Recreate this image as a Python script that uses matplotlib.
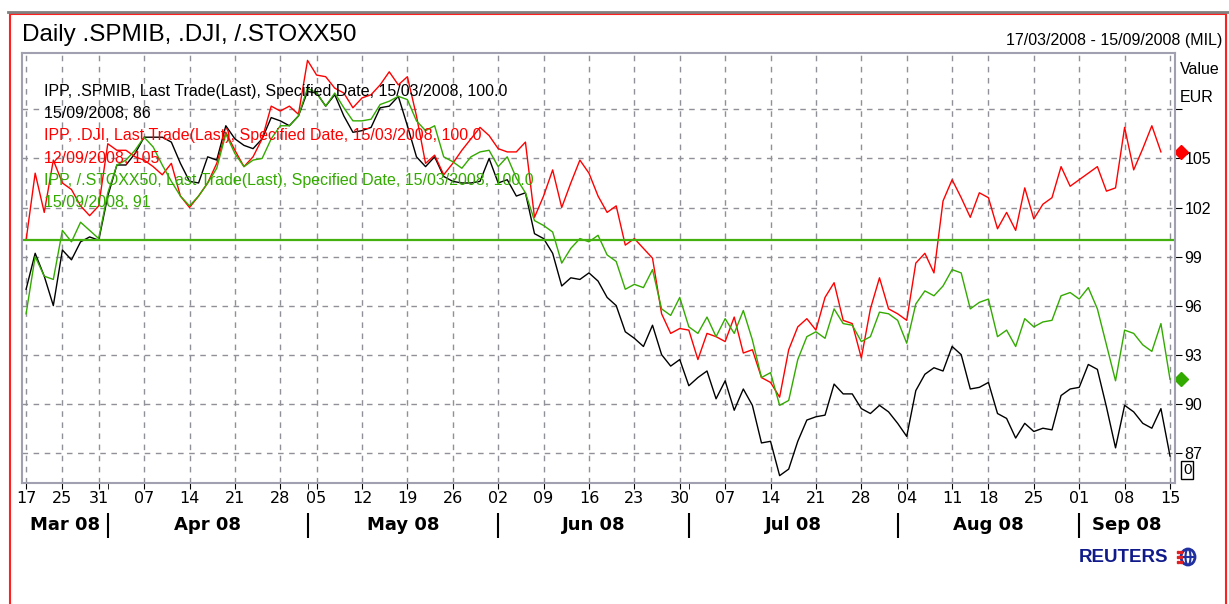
import numpy as np
import pandas as pd
import matplotlib
matplotlib.use('Agg')
import matplotlib.pyplot as plt
from matplotlib.patches import Rectangle, Circle, Ellipse
from matplotlib.lines import Line2D

plt.rcParams['font.family'] = ['Liberation Sans', 'DejaVu Sans']

# milan trading days 17/03/2008 - 15/09/2008
holidays = ['2008-03-21', '2008-03-24', '2008-05-01', '2008-08-15']
days = pd.bdate_range('2008-03-17', '2008-09-15')
days = days[~days.isin(pd.to_datetime(holidays))]

spmib = [97.0, 99.2, 97.8, 96.0, 99.4, 98.8, 99.9, 100.2, 100.0, 102.7,
         104.6, 104.6, 105.3, 106.3, 106.3, 106.3, 106.0, 104.7, 103.6, 103.5,
         105.1, 104.9, 107.0, 106.2, 105.8, 105.6, 106.2, 107.5, 107.3, 107.0,
         107.6, 109.1, 109.0, 108.2, 108.9, 107.6, 106.6, 106.7, 106.9, 108.1,
         108.2, 108.8, 107.0, 105.1, 104.5, 105.1, 103.9, 103.6, 103.5, 103.5,
         103.6, 105.0, 103.5, 103.7, 102.7, 102.9, 100.4, 100.1, 99.2, 97.2,
         97.7, 97.6, 98.0, 97.5, 96.5, 96.0, 94.4, 94.0, 93.5, 94.8,
         93.0, 92.3, 92.7, 91.1, 91.6, 92.0, 90.3, 91.4, 89.6, 90.9,
         89.9, 87.6, 87.7, 85.6, 86.0, 87.7, 89.0, 89.2, 89.3, 91.2,
         90.6, 90.6, 89.7, 89.4, 89.9, 89.5, 88.8, 88.0, 90.8, 91.8,
         92.2, 92.0, 93.5, 93.0, 90.9, 91.0, 91.3, 89.4, 89.1, 87.9,
         88.8, 88.3, 88.5, 88.4, 90.5, 90.9, 91.0, 92.4, 92.1, 89.8,
         87.3, 89.9, 89.5, 88.8, 88.5, 89.7, 86.8]

dji = [100.0, 104.1, 101.7, 104.9, 103.5, 103.1, 102.1, 101.5, 102.1, 105.9,
       105.5, 105.5, 105.1, 104.9, 104.5, 104.0, 104.7, 102.7, 102.0, 102.7,
       103.5, 104.7, 106.6, 105.5, 104.5, 105.1, 106.2, 108.2, 107.9, 108.2,
       107.7, 111.0, 110.1, 110.0, 109.3, 109.0, 108.1, 108.7, 108.9, 109.5,
       110.3, 109.5, 110.0, 107.6, 104.7, 105.2, 104.0, 104.7, 105.5, 106.2,
       106.9, 106.4, 105.6, 105.4, 105.4, 106.0, 101.4, 102.7, 104.3, 102.0,
       103.5, 104.9, 104.1, 102.7, 101.7, 102.1, 99.7, 100.1, 99.5, 98.9,
       95.5, 94.3, 94.6, 94.5, 92.7, 94.3, 94.1, 93.8, 95.3, 93.1,
       93.3, 91.6, 91.3, 90.4, 93.3, 94.7, 95.2, 94.5, 96.5, 97.4,
       95.1, 94.9, 92.8, 95.8, 97.7, 95.8, 95.5, 95.1, 98.6, 99.2,
       98.0, 102.4, 103.7, 102.6, 101.4, 102.9, 102.6, 100.7, 101.7, 100.6,
       103.2, 101.3, 102.2, 102.6, 104.5, 103.3, 103.7, 104.1, 104.5, 103.0,
       103.2, 106.9, 104.3, 105.6, 107.0, 105.4]

stoxx = [95.5, 99.0, 97.8, 97.6, 100.6, 99.9, 101.1, 100.6, 100.1, 102.9,
         104.6, 104.9, 105.5, 106.3, 105.7, 104.6, 103.6, 102.7, 102.1, 102.7,
         103.5, 104.4, 106.5, 105.3, 104.5, 104.9, 105.0, 106.2, 107.0, 107.0,
         107.6, 109.3, 109.0, 108.2, 109.0, 108.1, 107.3, 107.3, 107.4, 108.3,
         108.5, 108.8, 108.6, 107.3, 106.7, 107.0, 105.1, 104.8, 104.4, 105.1,
         105.4, 105.5, 104.5, 105.1, 103.8, 102.9, 101.2, 100.9, 100.5, 98.6,
         99.5, 100.1, 99.9, 100.3, 99.1, 98.7, 97.0, 97.3, 97.1, 98.2,
         95.8, 95.4, 96.5, 94.7, 94.3, 95.3, 94.1, 95.2, 94.3, 95.7,
         93.9, 91.6, 91.9, 89.9, 90.2, 92.7, 94.1, 94.4, 94.0, 95.8,
         94.9, 94.8, 93.8, 94.1, 95.6, 95.5, 95.1, 93.7, 96.1, 96.9,
         96.6, 97.2, 98.2, 98.0, 95.8, 96.2, 96.4, 94.1, 94.5, 93.5,
         95.2, 94.7, 95.0, 95.1, 96.6, 96.8, 96.4, 97.1, 95.8, 93.6,
         91.4, 94.5, 94.3, 93.6, 93.2, 94.9, 91.5]

legend_lines = [
    ('IPP, .SPMIB, Last Trade(Last), Specified Date, 15/03/2008, 100.0', 'black'),
    ('15/09/2008, 86', 'black'),
    ('IPP, .DJI, Last Trade(Last), Specified Date, 15/03/2008, 100.0', '#ff0000'),
    ('12/09/2008, 105', '#ff0000'),
    ('IPP, /.STOXX50, Last Trade(Last), Specified Date, 15/03/2008, 100.0', '#33aa00'),
    ('15/09/2008, 91', '#33aa00'),
]
yticks = [87, 90, 93, 96, 99, 102, 105, 108]

x = np.arange(len(days))
mondays = [i for i, d in enumerate(days) if d.weekday() == 0 or i == 4]
month_start = [i for i in range(1, len(days)) if days[i].month != days[i-1].month]
narrow = ['Liberation Sans Narrow', 'DejaVu Sans']

fig = plt.figure(figsize=(12.29, 6.04), dpi=100)
ax = fig.add_axes([22/1229, 1-483/604, (1175-22)/1229, (483-53)/604])

ax.plot(x, spmib, color='black', lw=1.0)
ax.plot(x[:len(dji)], dji, color='#ff0000', lw=1.0)
ax.plot(x, stoxx, color='#33aa00', lw=1.0)
ax.axhline(100, color='#44b010', lw=1.6)

ax.set_xlim(-0.45, len(days) - 0.45)
ax.set_ylim(85.15, 111.45)

ax.set_xticks(mondays)
ax.set_xticklabels([days[i].strftime('%d') for i in mondays], family=narrow, fontsize=11.5)
ax.set_xticks([i for i in month_start if i not in mondays], minor=True)
ax.set_yticks(yticks)
ax.set_yticklabels([str(v) if v != 108 else '' for v in yticks], fontsize=11.5)
ax.yaxis.tick_right()
ax.tick_params(axis='x', which='both', length=4, direction='out', pad=2, color='black')
ax.tick_params(axis='y', length=5, direction='out', pad=2, color='black')
ax.grid(True, color='#909098', ls=(0, (4, 4)), lw=1.0)
for s in ax.spines.values():
    s.set_color('#a0a0b0')
    s.set_linewidth(1.5)

for k, (txt, col) in enumerate(legend_lines):
    ax.text(0.0195, 0.91 - k * 0.0515, txt, transform=ax.transAxes, color=col,
            fontsize=11.5, va='center', ha='left')

# month row
tr = ax.get_xaxis_transform()
edges = [-0.45] + month_start + [len(days) - 0.45]
for a, b in zip(edges[:-1], edges[1:]):
    lab = days[int(np.ceil(a))].strftime('%b %y')
    ax.text((a + b) / 2, -0.098, lab, transform=tr, ha='center', va='center',
            fontsize=13, fontweight='bold', family=narrow)
ax.vlines(month_start, -0.128, -0.07, transform=tr, color='black', lw=1.5, clip_on=False)

# end markers
ax.plot([len(days) + 0.25], [dji[-1]], 'D', color='#ff0000', ms=7, clip_on=False)
ax.plot([len(days) + 0.25], [stoxx[-1]], 'D', color='#33aa00', ms=7, clip_on=False)

fig.text(1180/1229, 1-70/604, 'Value', fontsize=11.5, va='center')
fig.text(1180/1229, 1-97/604, 'EUR', fontsize=11.5, va='center')
fig.text(1183/1229, 1-470/604, '0', fontsize=11, va='center',
         bbox=dict(boxstyle='square,pad=0.1', fc='white', ec='black', lw=1))

fig.text(22/1229, 1-35/604, 'Daily .SPMIB, .DJI, /.STOXX50', fontsize=17.5, va='center')
fig.text(1222/1229, 1-40/604, '17/03/2008 - 15/09/2008 (MIL)', fontsize=11.5,
         va='center', ha='right')

# frame
fig.patches.append(Rectangle((10/1229, -0.2), (1226-10)/1229, 1.2 - 14/604, transform=fig.transFigure,
                             fill=False, ec='#ff2020', lw=1.5))
fig.lines.append(Line2D([8/1229, 1], [1-12/604, 1-12/604], transform=fig.transFigure,
                        color='#808080', lw=2))

# reuters logo
fig.text(1168/1229, 1-557/604, 'REUTERS', fontsize=13.5, fontweight='bold', color='#101a8a',
         ha='right', va='center')
cx, cy = 1188/1229, 1-557/604
fig.patches.append(Ellipse((cx, cy), 14/1229, 16/604, transform=fig.transFigure,
                           fc='white', ec='#2030a0', lw=2))
fig.patches.append(Ellipse((cx, cy), 5/1229, 16/604, transform=fig.transFigure,
                           fc='none', ec='#2030a0', lw=1.5))
fig.lines.append(Line2D([cx - 7/1229, cx + 7/1229], [cy, cy], transform=fig.transFigure,
                        color='#2030a0', lw=1.5))
for dx in (-10, -7):
    fig.lines.append(Line2D([cx + dx/1229] * 3, [cy - 5/604, cy, cy + 5/604],
                            transform=fig.transFigure, color='#e02020', ls='none',
                            marker='s', ms=1.8))

fig.savefig('out.png', dpi=100, facecolor='white')
